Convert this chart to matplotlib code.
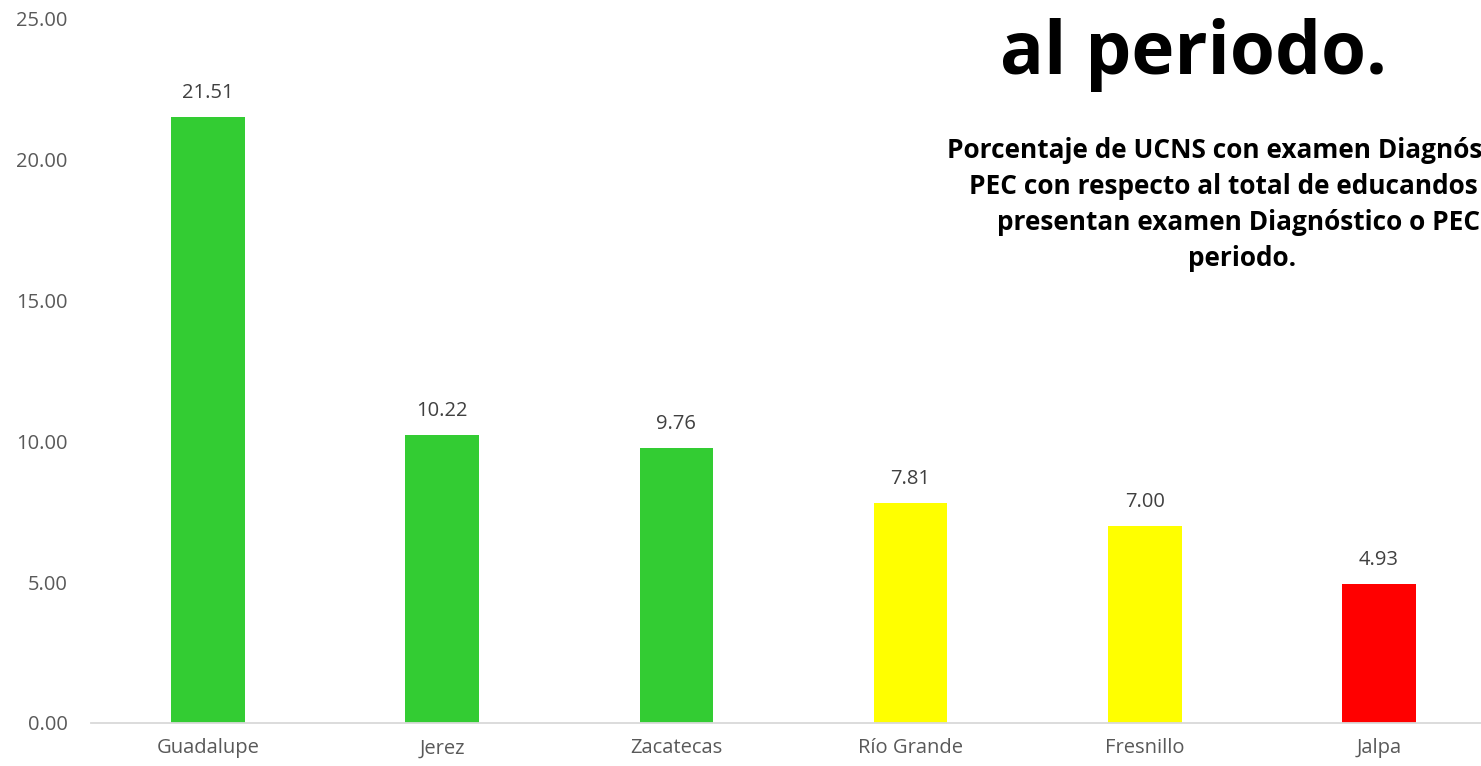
"""
bar chart: porcentaje de UCNS con examen Diagnostico o PEC por coordinacion
"""
import matplotlib
matplotlib.use("Agg")
import matplotlib.pyplot as plt

# ----------------------------- data ----------------------------------------
CATEGORIES = ["Guadalupe", "Jerez", "Zacatecas", "Río Grande", "Fresnillo", "Jalpa"]
VALUES     = [21.51, 10.22, 9.76, 7.81, 7.00, 4.93]
BAR_COLORS = ["#33CC33", "#33CC33", "#33CC33", "#FFFF00", "#FFFF00", "#FF0000"]
Y_TICKS    = [0, 5, 10, 15, 20, 25]

TITLE    = "al periodo."
SUBTITLE = ["Porcentaje de UCNS con examen Diagnóstico o",
            "PEC con respecto al total de educandos que",
            "presentan examen Diagnóstico o PEC",
            "periodo."]
SUB_LEFT = [947, 969, 997, 1188]   # left edge of each subtitle line, px

TEXT_GREY = "#595959"
FONT = ["Open Sans", "DejaVu Sans"]

# ----------------------------- figure --------------------------------------
W, H = 1481, 766
fig = plt.figure(figsize=(W / 100, H / 100), dpi=100)
plt.rcParams["font.family"] = FONT

# plot area runs a bit past the right edge of the picture, as in the original
left, right = 91 / W, 1496 / W
bottom, top = (H - 723) / H, (H - 19) / H
ax = fig.add_axes([left, bottom, right - left, top - bottom])

x = range(len(CATEGORIES))
ax.bar(x, VALUES, width=0.315, color=BAR_COLORS, zorder=2)
for xi, v in zip(x, VALUES):
    ax.annotate(f"{v:.2f}", (xi, v), xytext=(0, 10), textcoords="offset points",
                ha="center", va="bottom", fontsize=14.5, color="#404040")

ax.set_xlim(-0.5, len(CATEGORIES) - 0.5)
ax.set_ylim(0, 25)
ax.set_yticks(Y_TICKS)
ax.set_yticklabels([f"{t:.2f}" for t in Y_TICKS])
ax.set_xticks(list(x))
ax.set_xticklabels(CATEGORIES)
ax.tick_params(axis="both", length=0, labelsize=14.5, labelcolor=TEXT_GREY)
ax.tick_params(axis="y", pad=17)
ax.tick_params(axis="x", pad=11)

for side in ["top", "right", "left"]:
    ax.spines[side].set_visible(False)
ax.spines["bottom"].set_color("#D9D9D9")
ax.spines["bottom"].set_linewidth(1.3)

# overlapping slide text (cut at the right edge, as in the source slide)
fig.text(1193 / W, 1 - 55 / H, TITLE, ha="center", va="center",
         fontsize=52.5, fontweight="bold", color="black")
for i, (line, lx) in enumerate(zip(SUBTITLE, SUB_LEFT)):
    fig.text(lx / W, 1 - (150 + i * 36) / H, line, ha="left", va="center",
             fontsize=18.9, fontweight="bold", color="black")

fig.savefig("out.png", dpi=100)
